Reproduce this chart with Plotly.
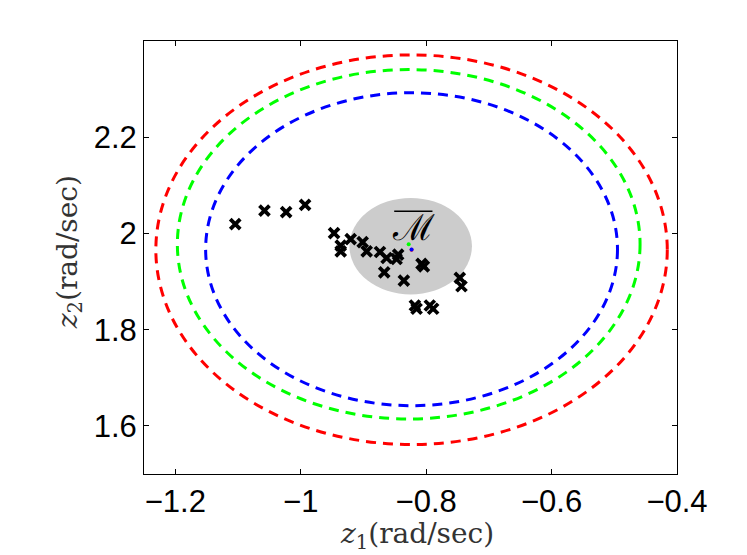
import plotly.graph_objects as go


# estimated observations (crosses)
obs_z1 = [-1.1045, -1.0579, -1.0233, -0.9931, -0.9469, -0.9363, -0.9363, -0.9204,
          -0.9013, -0.8949, -0.8737, -0.8631, -0.8447, -0.8472, -0.8669, -0.8356,
          -0.8074, -0.8037, -0.7464, -0.7437, -0.8180, -0.8153, -0.7942, -0.7889]
obs_z2 = [2.0194, 2.0475, 2.0442, 2.0593, 2.0007, 1.9745, 1.9627, 1.9883,
          1.9821, 1.9627, 1.9614, 1.9490, 1.9558, 1.9469, 1.9192, 1.9020,
          1.9366, 1.9316, 1.9076, 1.8903, 1.8503, 1.8435, 1.8503, 1.8435]

# dashed level sets: red, green, blue
ell_colors = ['#ff0000', '#00ff00', '#0000ff']
ell_left = [-1.2311, -1.1968, -1.1517]
ell_right = [-0.4155, -0.4589, -0.4949]
ell_bottom = [1.5613, 1.6144, 1.6420]
ell_top = [2.3711, 2.3407, 2.2925]
center_z1 = [-0.8233, -0.8279, -0.8233]
center_z2 = [1.9662, 1.9776, 1.9668]

# grey set M-bar
m_left, m_right = -0.9224, -0.7270
m_bottom, m_top = 1.8731, 2.0738

x_ticks = [-1.2, -1, -0.8, -0.6, -0.4]
y_ticks = [1.6, 1.8, 2, 2.2]


def level_sets_graph():
    fig = go.Figure()

    fig.add_shape(type='circle', xref='x', yref='y',
                  x0=m_left, x1=m_right, y0=m_bottom, y1=m_top,
                  fillcolor='#cccccc', line=dict(width=0), layer='below')

    for c, l, r, b, t in zip(ell_colors, ell_left, ell_right, ell_bottom, ell_top):
        fig.add_shape(type='circle', xref='x', yref='y',
                      x0=l, x1=r, y0=b, y1=t,
                      line=dict(color=c, width=3, dash='10px,7px'))

    fig.add_trace(go.Scatter(
        x=obs_z1, y=obs_z2, mode='markers',
        marker=dict(symbol='x-thin', size=10, line=dict(color='black', width=3.8)),
        showlegend=False))

    for c, cx, cy in zip(ell_colors, center_z1, center_z2):
        fig.add_trace(go.Scatter(
            x=[cx], y=[cy], mode='markers',
            marker=dict(color=c, size=4), showlegend=False))

    # label for M-bar
    fig.add_annotation(x=-0.821, y=2.012, xref='x', yref='y', text='ℳ',
                       showarrow=False, font=dict(family='DejaVu Serif', size=36, color='black'))
    fig.add_shape(type='line', xref='x', yref='y', x0=-0.851, x1=-0.790, y0=2.046, y1=2.046,
                  line=dict(color='black', width=1.5))

    title_font = dict(family='DejaVu Serif', size=28, color='#333333')
    fig.add_annotation(x=0.512, y=-0.141, xref='paper', yref='paper',
                       text='<i>z</i><sub>1</sub>(rad/sec)', showarrow=False,
                       xanchor='center', yanchor='middle', font=title_font)
    fig.add_annotation(x=-0.14, y=0.513, xref='paper', yref='paper',
                       text='<i>z</i><sub>2</sub>(rad/sec)', showarrow=False, textangle=-90,
                       xanchor='center', yanchor='middle', font=title_font)

    axis_style = dict(showgrid=False, zeroline=False, showline=True, linecolor='black',
                      linewidth=1, mirror='ticks', ticks='inside', ticklen=5, tickwidth=1,
                      tickcolor='black', tickfont=dict(family='Liberation Sans', size=31, color='black'))
    fig.update_xaxes(range=[-1.25, -0.4], tickvals=x_ticks,
                     ticktext=['−1.2', '−1', '−0.8', '−0.6', '−0.4'], **axis_style)
    fig.update_yaxes(range=[1.5, 2.4], tickvals=y_ticks,
                     ticktext=['1.6', '1.8', '2', '2.2'], **axis_style)

    # page body adds 8px, so margins are shifted to compensate
    fig.update_layout(width=747, height=555, plot_bgcolor='white', paper_bgcolor='white',
                      margin=dict(l=136, r=78, t=33, b=89, autoexpand=False))
    fig.write_html("out.html")


level_sets_graph()
